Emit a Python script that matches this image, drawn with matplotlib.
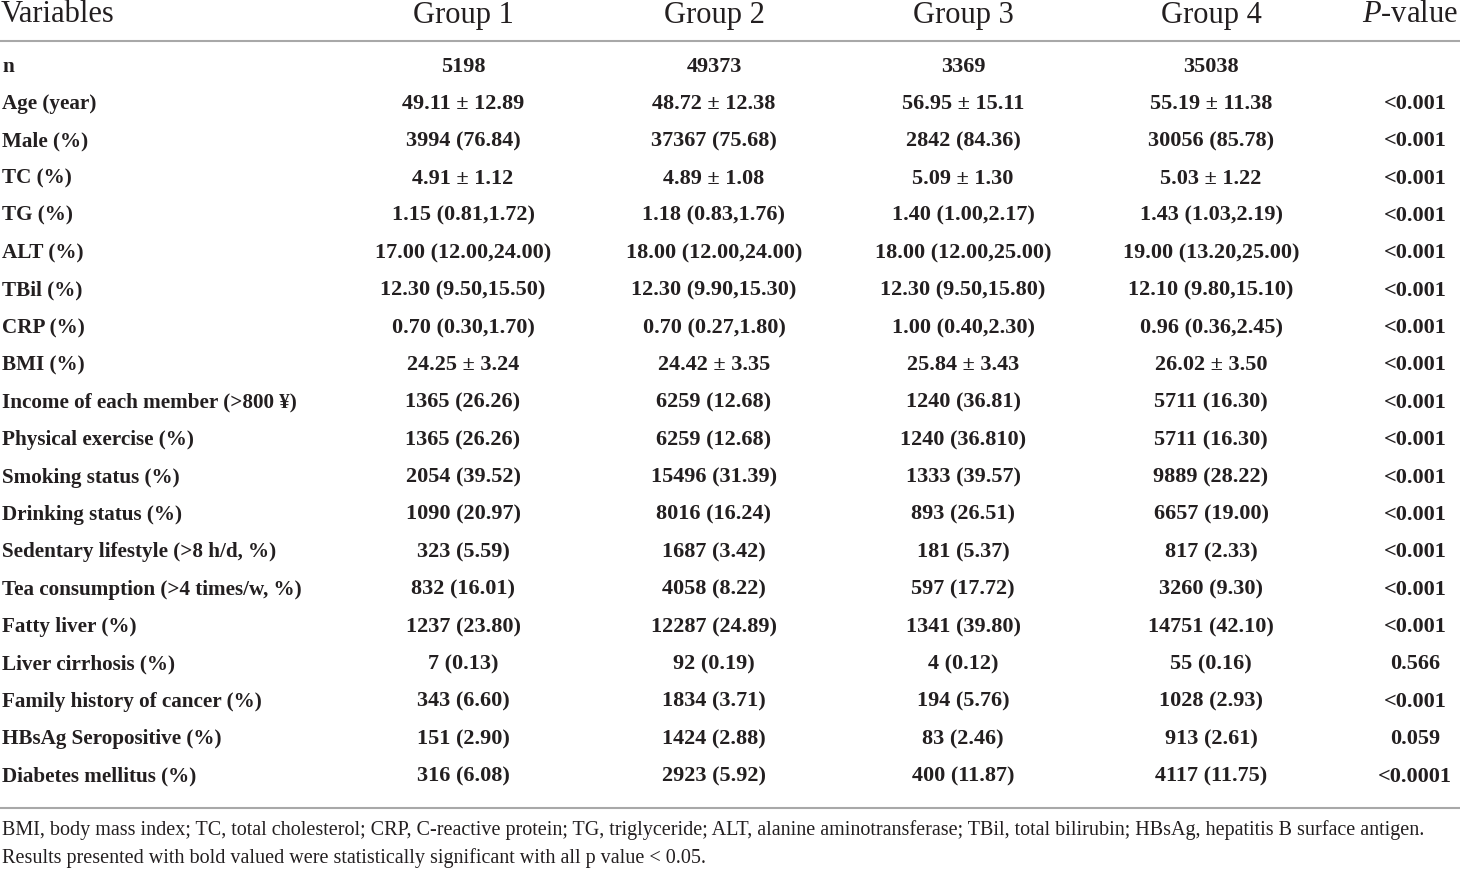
import matplotlib
matplotlib.use("Agg")
import matplotlib.pyplot as plt

# ---- table contents ----
headers = ["Variables", "Group 1", "Group 2", "Group 3", "Group 4", "$\\it{P}$-value"]
variables = [
    "n", "Age (year)", "Male (%)", "TC (%)", "TG (%)", "ALT (%)", "TBil (%)",
    "CRP (%)", "BMI (%)", "Income of each member (>800 ¥)", "Physical exercise (%)",
    "Smoking status (%)", "Drinking status (%)", "Sedentary lifestyle (>8 h/d, %)",
    "Tea consumption (>4 times/w, %)", "Fatty liver (%)", "Liver cirrhosis (%)",
    "Family history of cancer (%)", "HBsAg Seropositive (%)", "Diabetes mellitus (%)",
]
group1 = ["5198", "49.11 ± 12.89", "3994 (76.84)", "4.91 ± 1.12", "1.15 (0.81,1.72)",
          "17.00 (12.00,24.00)", "12.30 (9.50,15.50)", "0.70 (0.30,1.70)", "24.25 ± 3.24",
          "1365 (26.26)", "1365 (26.26)", "2054 (39.52)", "1090 (20.97)", "323 (5.59)",
          "832 (16.01)", "1237 (23.80)", "7 (0.13)", "343 (6.60)", "151 (2.90)", "316 (6.08)"]
group2 = ["49373", "48.72 ± 12.38", "37367 (75.68)", "4.89 ± 1.08", "1.18 (0.83,1.76)",
          "18.00 (12.00,24.00)", "12.30 (9.90,15.30)", "0.70 (0.27,1.80)", "24.42 ± 3.35",
          "6259 (12.68)", "6259 (12.68)", "15496 (31.39)", "8016 (16.24)", "1687 (3.42)",
          "4058 (8.22)", "12287 (24.89)", "92 (0.19)", "1834 (3.71)", "1424 (2.88)", "2923 (5.92)"]
group3 = ["3369", "56.95 ± 15.11", "2842 (84.36)", "5.09 ± 1.30", "1.40 (1.00,2.17)",
          "18.00 (12.00,25.00)", "12.30 (9.50,15.80)", "1.00 (0.40,2.30)", "25.84 ± 3.43",
          "1240 (36.81)", "1240 (36.810)", "1333 (39.57)", "893 (26.51)", "181 (5.37)",
          "597 (17.72)", "1341 (39.80)", "4 (0.12)", "194 (5.76)", "83 (2.46)", "400 (11.87)"]
group4 = ["35038", "55.19 ± 11.38", "30056 (85.78)", "5.03 ± 1.22", "1.43 (1.03,2.19)",
          "19.00 (13.20,25.00)", "12.10 (9.80,15.10)", "0.96 (0.36,2.45)", "26.02 ± 3.50",
          "5711 (16.30)", "5711 (16.30)", "9889 (28.22)", "6657 (19.00)", "817 (2.33)",
          "3260 (9.30)", "14751 (42.10)", "55 (0.16)", "1028 (2.93)", "913 (2.61)", "4117 (11.75)"]
p_values = ["", "<0.001", "<0.001", "<0.001", "<0.001", "<0.001", "<0.001", "<0.001",
            "<0.001", "<0.001", "<0.001", "<0.001", "<0.001", "<0.001", "<0.001", "<0.001",
            "0.566", "<0.001", "0.059", "<0.0001"]
footnotes = [
    "BMI, body mass index; TC, total cholesterol; CRP, C-reactive protein; TG, triglyceride; "
    "ALT, alanine aminotransferase; TBil, total bilirubin; HBsAg, hepatitis B surface antigen.",
    "Results presented with bold valued were statistically significant with all p value < 0.05.",
]

W, H = 1460, 869
plt.rcParams["font.family"] = ["Liberation Serif", "DejaVu Serif"]
plt.rcParams["mathtext.fontset"] = "custom"
plt.rcParams["mathtext.it"] = "Liberation Serif:italic"
plt.rcParams["mathtext.rm"] = "Liberation Serif"

fig = plt.figure(figsize=(W / 100, H / 100), dpi=100)
ax = fig.add_axes([0, 0, 1, 1])
ax.set_xlim(0, W)
ax.set_ylim(H, 0)
ax.axis("off")

col_x = [463, 714, 963, 1211, 1415]
txt = "#231f20"

# header
ax.text(1, 15, headers[0], fontsize=22, ha="left", va="center", color=txt)
for x, h in zip(col_x[:-1], headers[1:-1]):
    ax.text(x, 15, h, fontsize=22, ha="center", va="center", color=txt)
ax.text(1458, 15, headers[-1], fontsize=22, ha="right", va="center", color=txt)
ax.axhline(41, color="#a8a8a8", lw=1.5)

# body
row0, dy = 66.5, 37.37
columns = [group1, group2, group3, group4, p_values]
for i, var in enumerate(variables):
    y = row0 + i * dy
    ax.text(2, y, var, fontsize=15.2, ha="left", va="center", color=txt, fontweight="bold")
    for x, col in zip(col_x, columns):
        ax.text(x, y, col[i], fontsize=16, ha="center", va="center", color=txt,
                fontweight="bold")
ax.axhline(808, color="#a8a8a8", lw=1.5)

# footnotes
for j, note in enumerate(footnotes):
    ax.text(2, 830 + j * 28, note, fontsize=14.5, ha="left", va="center", color=txt)

fig.savefig("out.png", dpi=100)
